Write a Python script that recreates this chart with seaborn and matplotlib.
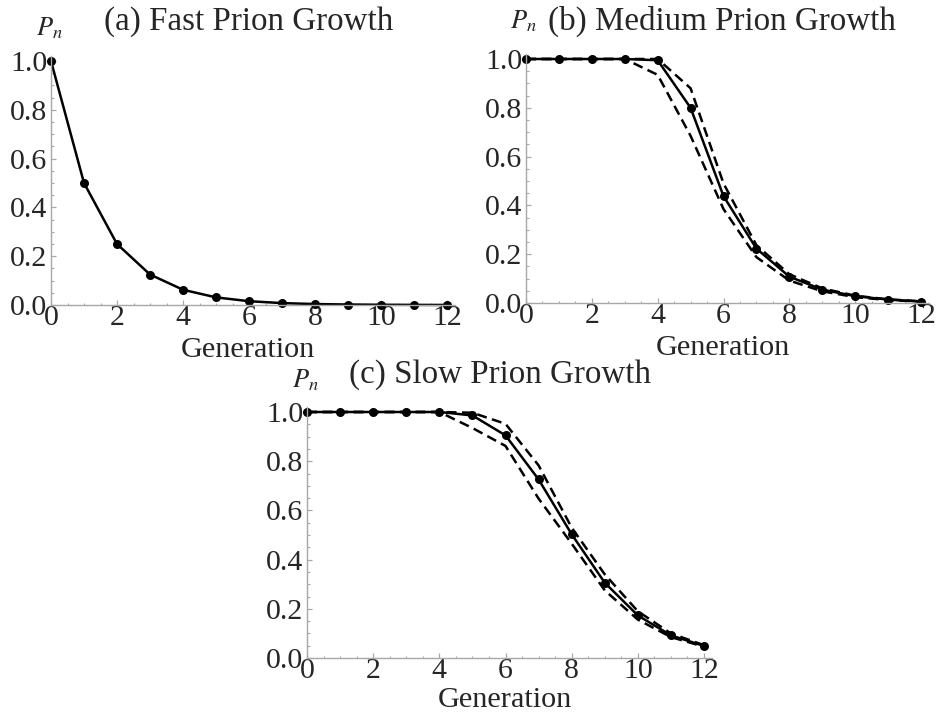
import numpy as np
import pandas as pd
import matplotlib
matplotlib.use("Agg")
import matplotlib.pyplot as plt
from matplotlib.ticker import MultipleLocator
import seaborn as sns

# ---- data ----
generation = list(range(13))
fast = [1.0, 0.5, 0.25, 0.125, 0.0625, 0.03125, 0.0156, 0.0078, 0.0039, 0.0020, 0.0010, 0.0005, 0.0002]
medium = [1.0, 1.0, 1.0, 1.0, 0.995, 0.80, 0.438, 0.223, 0.108, 0.055, 0.028, 0.014, 0.006]
medium_upper = [1.0, 1.0, 1.0, 1.0, 1.0, 0.88, 0.49, 0.237, 0.118, 0.060, 0.030, 0.015, 0.007]
medium_lower = [1.0, 1.0, 1.0, 1.0, 0.935, 0.685, 0.385, 0.188, 0.092, 0.048, 0.024, 0.012, 0.006]
slow = [1.0, 1.0, 1.0, 1.0, 1.0, 0.986, 0.905, 0.726, 0.503, 0.306, 0.173, 0.092, 0.049]
slow_upper = [1.0, 1.0, 1.0, 1.0, 1.0, 0.997, 0.952, 0.783, 0.530, 0.340, 0.190, 0.100, 0.052]
slow_lower = [1.0, 1.0, 1.0, 1.0, 1.0, 0.935, 0.862, 0.648, 0.465, 0.275, 0.156, 0.085, 0.046]

titles = ["(a) Fast Prion Growth", "(b) Medium Prion Growth", "(c) Slow Prion Growth"]
x_ticks = [0, 2, 4, 6, 8, 10, 12]
y_ticks = [0.0, 0.2, 0.4, 0.6, 0.8, 1.0]

sns.set_style("white")
plt.rcParams["font.family"] = ["Liberation Serif", "DejaVu Serif"]
plt.rcParams["mathtext.fontset"] = "stix"

FS_TITLE = 23.8
FS_LABEL = 21.8
FS_TICK = 21.5
FS_P = 19
AXC = "#a8a8a8"

fig = plt.figure(figsize=(9.4, 7.12), dpi=100)
W, H = 940.0, 712.0

def make_axes(left_px, x12_px, y0_px, y1_px):
    ux = (x12_px - left_px) / 12.0
    uy = (y0_px - y1_px) / 1.0
    xmax, ymax = 12.25, 1.02
    return fig.add_axes([left_px / W, 1 - y0_px / H, xmax * ux / W, ymax * uy / H])

ax_a = make_axes(51, 447, 305, 61)
ax_b = make_axes(526, 921, 303, 59)
ax_c = make_axes(307, 704, 658, 412)

def style(ax, title, tx, ty, px, py, gx, gy):
    ax.set_xlim(0, 12.25)
    ax.set_ylim(0, 1.02)
    sns.despine(ax=ax)
    for s in ("left", "bottom"):
        ax.spines[s].set_color(AXC)
        ax.spines[s].set_linewidth(1.0)
    ax.set_xticks(x_ticks)
    ax.set_xticklabels([str(t) for t in x_ticks])
    ax.set_yticks(y_ticks)
    ax.set_yticklabels([f"{t:.1f}" for t in y_ticks])
    ax.xaxis.set_minor_locator(MultipleLocator(0.5))
    ax.yaxis.set_minor_locator(MultipleLocator(0.05))
    ax.tick_params(which="both", direction="in", color=AXC, labelsize=FS_TICK,
                   bottom=True, left=True, top=False, right=False)
    ax.tick_params(which="major", length=3.5, width=0.9)
    ax.tick_params(which="minor", length=1.8, width=0.8)
    ax.tick_params(axis="x", which="major", pad=0)
    ax.tick_params(axis="y", which="major", pad=2.5)
    ax.set_xlabel("")
    ax.set_ylabel("")
    ax.text(tx, ty, title, transform=ax.transAxes, ha="center", va="baseline", fontsize=FS_TITLE)
    ax.text(px, py, r"$P_n$", transform=ax.transAxes, ha="center", va="baseline", fontsize=FS_P)
    ax.text(gx, gy, "Generation", transform=ax.transAxes, ha="center", va="baseline", fontsize=FS_LABEL)
    ax.set_facecolor("white")

line_kw = dict(color="black", linewidth=1.8)
mk_kw = dict(marker="o", markersize=6.5, markeredgewidth=0)
dash = (0, (4, 2.2))

# (a)
df_a = pd.DataFrame({"Generation": generation, "P": fast})
sns.lineplot(data=df_a, x="Generation", y="P", ax=ax_a, **line_kw, **mk_kw, clip_on=False)

# (b)
df_b = pd.DataFrame({"Generation": generation, "P": medium,
                     "upper": medium_upper, "lower": medium_lower})
sns.lineplot(data=df_b, x="Generation", y="upper", ax=ax_b, linestyle=dash, **line_kw, clip_on=False)
sns.lineplot(data=df_b, x="Generation", y="lower", ax=ax_b, linestyle=dash, **line_kw, clip_on=False)
sns.lineplot(data=df_b, x="Generation", y="P", ax=ax_b, **line_kw, **mk_kw, clip_on=False)

# (c)
df_c = pd.DataFrame({"Generation": generation, "P": slow,
                     "upper": slow_upper, "lower": slow_lower})
sns.lineplot(data=df_c, x="Generation", y="upper", ax=ax_c, linestyle=dash, **line_kw, clip_on=False)
sns.lineplot(data=df_c, x="Generation", y="lower", ax=ax_c, linestyle=dash, **line_kw, clip_on=False)
sns.lineplot(data=df_c, x="Generation", y="P", ax=ax_c, **line_kw, **mk_kw, clip_on=False)

style(ax_a, titles[0], 0.49, 1.104, -0.005, 1.084, 0.488, -0.21)
style(ax_b, titles[1], 0.486, 1.096, -0.007, 1.104, 0.488, -0.209)
style(ax_c, titles[2], 0.477, 1.096, -0.005, 1.08, 0.489, -0.195)

fig.savefig("out.png", dpi=100, facecolor="white")
